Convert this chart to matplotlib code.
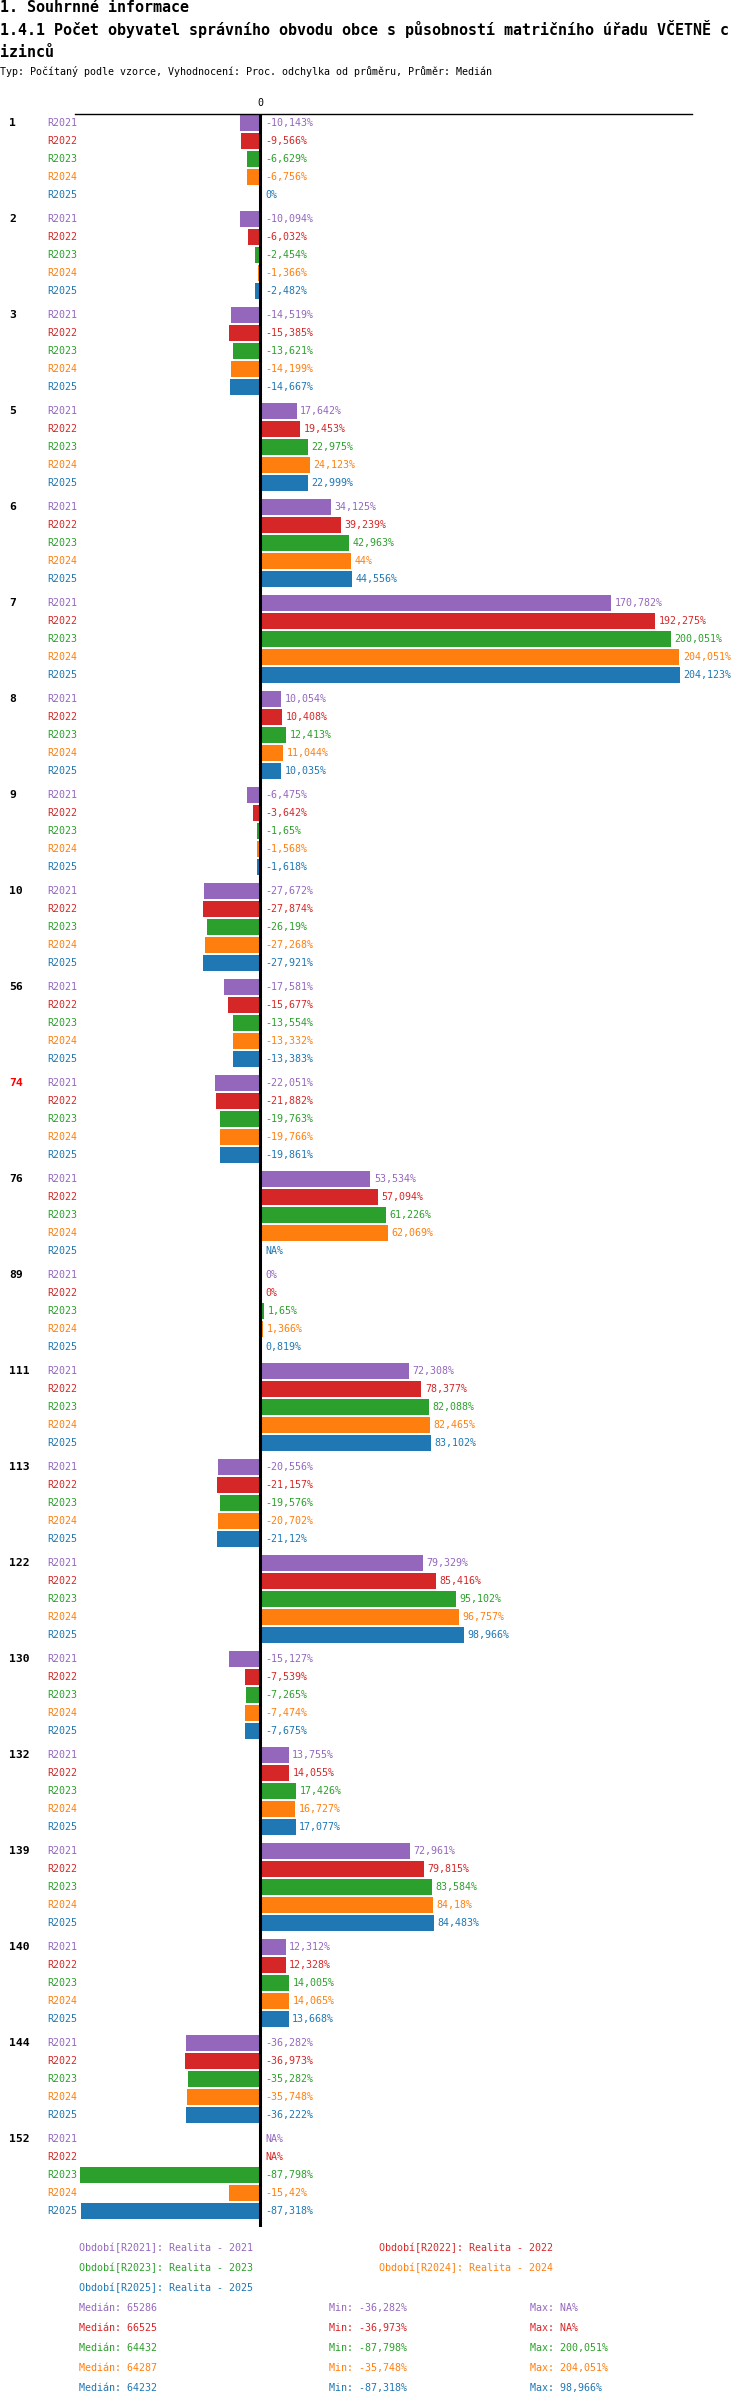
import numpy as np
import matplotlib
matplotlib.use('Agg')
import matplotlib.pyplot as plt
from matplotlib.transforms import blended_transform_factory

NA = np.nan

groups = ['1', '2', '3', '5', '6', '7', '8', '9', '10', '56', '74', '76', '89',
          '111', '113', '122', '130', '132', '139', '140', '144', '152']
highlight = ['74']

series = ['R2021', 'R2022', 'R2023', 'R2024', 'R2025']
colors = ['#9467bd', '#d62728', '#2ca02c', '#ff7f0e', '#1f77b4']

r2021 = [-10.143, -10.094, -14.519, 17.642, 34.125, 170.782, 10.054, -6.475, -27.672, -17.581, -22.051,
         53.534, 0, 72.308, -20.556, 79.329, -15.127, 13.755, 72.961, 12.312, -36.282, NA]
r2022 = [-9.566, -6.032, -15.385, 19.453, 39.239, 192.275, 10.408, -3.642, -27.874, -15.677, -21.882,
         57.094, 0, 78.377, -21.157, 85.416, -7.539, 14.055, 79.815, 12.328, -36.973, NA]
r2023 = [-6.629, -2.454, -13.621, 22.975, 42.963, 200.051, 12.413, -1.65, -26.19, -13.554, -19.763,
         61.226, 1.65, 82.088, -19.576, 95.102, -7.265, 17.426, 83.584, 14.005, -35.282, -87.798]
r2024 = [-6.756, -1.366, -14.199, 24.123, 44, 204.051, 11.044, -1.568, -27.268, -13.332, -19.766,
         62.069, 1.366, 82.465, -20.702, 96.757, -7.474, 16.727, 84.18, 14.065, -35.748, -15.42]
r2025 = [0, -2.482, -14.667, 22.999, 44.556, 204.123, 10.035, -1.618, -27.921, -13.383, -19.861,
         NA, 0.819, 83.102, -21.12, 98.966, -7.675, 17.077, 84.483, 13.668, -36.222, -87.318]
values = [r2021, r2022, r2023, r2024, r2025]

legend_names = ['Období[R2021]: Realita - 2021', 'Období[R2022]: Realita - 2022',
                'Období[R2023]: Realita - 2023', 'Období[R2024]: Realita - 2024',
                'Období[R2025]: Realita - 2025']
medians = [65286, 66525, 64432, 64287, 64232]
mins = [-36.282, -36.973, -87.798, -35.748, -87.318]
maxs = [NA, NA, 200.051, 204.051, 98.966]

W, H = 750, 2406
MONO = 'DejaVu Sans Mono'


def fx(px):
    return px / W


def fy(py):
    return 1 - py / H


def fmt(v):
    if v is None or np.isnan(v):
        return 'NA%'
    s = f'{v:.3f}'.rstrip('0').rstrip('.')
    return s.replace('.', ',') + '%'


fig = plt.figure(figsize=(W / 100, H / 100), dpi=100)
plt.rcParams['font.family'] = MONO

ax_left, ax_right, ax_top, ax_bot = 75, 692, 114, 2227
ax = fig.add_axes([fx(ax_left), fy(ax_bot), (ax_right - ax_left) / W, (ax_bot - ax_top) / H])

gap = 1 / 3.0
period = len(series) + gap
n_rows_last = (len(groups) - 1) * period + len(series) - 1

for si, (name, col, vals) in enumerate(zip(series, colors, values)):
    v = np.array(vals, dtype=float)
    y = np.arange(len(groups)) * period + si
    ok = ~np.isnan(v)
    ax.barh(y[ok], v[ok], height=0.889, color=col, zorder=2)
    for yy, vv in zip(y, v):
        if np.isnan(vv) or vv <= 0:
            ax.annotate(fmt(vv), (0, yy), xytext=(3.6, 0), textcoords='offset points',
                        ha='left', va='center', fontsize=7.2, color=col, family=MONO)
        else:
            ax.annotate(fmt(vv), (vv, yy), xytext=(2.5, 0), textcoords='offset points',
                        ha='left', va='center', fontsize=7.2, color=col, family=MONO)

ax.set_xlim(-90.35, 210.2)
ax.set_ylim(n_rows_last + 0.889, -0.5)
ax.axvline(0, color='black', lw=2.2, zorder=3)

for s in ['left', 'right', 'bottom']:
    ax.spines[s].set_visible(False)
ax.spines['top'].set_linewidth(1.0)
ax.set_yticks([])
ax.set_xticks([0])
ax.set_xticklabels(['0'], fontsize=7.2, family=MONO)
ax.tick_params(axis='x', top=True, labeltop=True, bottom=False, labelbottom=False, length=0, pad=4)

# row and group labels
tr = blended_transform_factory(fig.transFigure, ax.transData)
for gi, g in enumerate(groups):
    y0 = gi * period
    ax.text(fx(9), y0, g, transform=tr, ha='left', va='center', fontsize=8.2, fontweight='bold',
            color='#ff0000' if g in highlight else 'black', family=MONO)
    for si, (name, col) in enumerate(zip(series, colors)):
        ax.text(fx(77.5), y0 + si, name, transform=tr, ha='right', va='center',
                fontsize=7.2, color=col, family=MONO)

# titles
fig.text(0, fy(12), '1. Souhrnné informace', fontsize=10.8, fontweight='bold', va='baseline', family=MONO)
fig.text(0, fy(35), '1.4.1 Počet obyvatel správního obvodu obce s působností matričního úřadu VČETNĚ c',
         fontsize=10.8, fontweight='bold', va='baseline', family=MONO)
fig.text(0, fy(57), 'izinců', fontsize=10.8, fontweight='bold', va='baseline', family=MONO)
fig.text(0, fy(75), 'Typ: Počítaný podle vzorce, Vyhodnocení: Proc. odchylka od průměru, Průměr: Medián',
         fontsize=7.2, va='baseline', family=MONO)

# legend
leg_pos = [(79, 2248), (379, 2248), (79, 2268), (379, 2268), (79, 2288)]
for (px, py), txt, col in zip(leg_pos, legend_names, colors):
    fig.text(fx(px), fy(py), txt, fontsize=7.2, color=col, va='center', family=MONO)

for i, col in enumerate(colors):
    py = 2308 + 20 * i
    fig.text(fx(79), fy(py), f'Medián: {medians[i]}', fontsize=7.2, color=col, va='center', family=MONO)
    fig.text(fx(329), fy(py), f'Min: {fmt(mins[i])}', fontsize=7.2, color=col, va='center', family=MONO)
    fig.text(fx(530), fy(py), f'Max: {fmt(maxs[i])}', fontsize=7.2, color=col, va='center', family=MONO)

fig.savefig('out.png', dpi=100)
